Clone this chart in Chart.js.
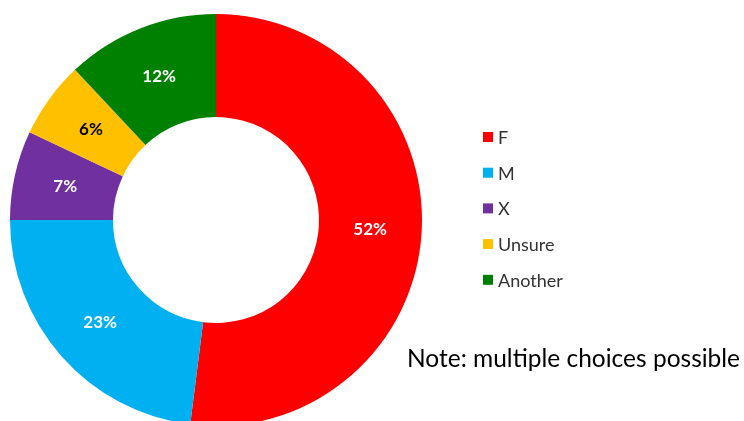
<!DOCTYPE html>
<html>
<head>
<meta charset="utf-8">
<script src="https://cdn.jsdelivr.net/npm/chart.js@4.4.0/dist/chart.umd.min.js"></script>
<style>
  html, body { margin: 0; padding: 0; background: #fff; overflow: hidden; width: 744px; height: 421px; }
  #wrap { position: absolute; left: 0; top: 0; width: 744px; height: 440px; }
</style>
</head>
<body>
<div id="wrap"><canvas id="chart" width="744" height="440"></canvas></div>
<script>
// data
const labels = ['F', 'M', 'X', 'Unsure', 'Another']
const shares = [52, 23, 7, 6, 12]
const colors = ['#FF0000', '#00B0F0', '#7030A0', '#FFC000', '#008000']
const labelColors = ['#ffffff', '#ffffff', '#ffffff', '#000000', '#ffffff']
const note = 'Note: multiple choices possible'

const FONT = 'Lato, "Open Sans", sans-serif'

// percentage text inside each slice
const sliceLabels = {
    id: 'sliceLabels',
    afterDatasetsDraw(chart) {
        const ctx = chart.ctx
        const meta = chart.getDatasetMeta(0)
        ctx.save()
        ctx.font = 'bold 17px ' + FONT
        ctx.textAlign = 'center'
        ctx.textBaseline = 'middle'
        meta.data.forEach((arc, i) => {
            const p = arc.tooltipPosition()
            ctx.fillStyle = labelColors[i]
            ctx.fillText(shares[i] + '%', p.x, p.y)
        })
        ctx.restore()
    }
}

// legend on the right + note text
const sideLegend = {
    id: 'sideLegend',
    afterDraw(chart) {
        const ctx = chart.ctx
        ctx.save()
        ctx.font = '18px ' + FONT
        ctx.textBaseline = 'middle'
        ctx.textAlign = 'left'
        labels.forEach((lab, i) => {
            const y = 137 + i * 35.7
            ctx.fillStyle = colors[i]
            ctx.fillRect(483, y - 5, 10, 10)
            ctx.fillStyle = '#333333'
            ctx.fillText(lab, 498, y + 1)
        })
        ctx.font = '24.5px ' + FONT
        ctx.fillStyle = '#000000'
        ctx.textBaseline = 'alphabetic'
        ctx.fillText(note, 407, 367)
        ctx.restore()
    }
}

new Chart(document.getElementById('chart'), {
    type: 'doughnut',
    data: {
        labels: labels,
        datasets: [{
            data: shares,
            backgroundColor: colors,
            borderWidth: 0
        }]
    },
    options: {
        responsive: false,
        animation: false,
        cutout: '50%',
        layout: { padding: { left: 10, top: 14, right: 322, bottom: 14 } },
        plugins: {
            legend: { display: false },
            tooltip: { enabled: false }
        }
    },
    plugins: [sliceLabels, sideLegend]
})
</script>
</body>
</html>
